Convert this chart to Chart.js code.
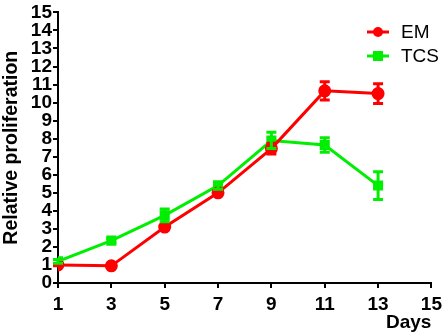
<!DOCTYPE html>
<html>
<head>
<meta charset="utf-8">
<script src="https://cdn.jsdelivr.net/npm/chart.js@4.4.0/dist/chart.umd.min.js"></script>
<style>
    html, body { margin: 0; padding: 0; background: #fff; }
    #wrap { width: 447px; height: 334px; }
</style>
</head>
<body>
<div id="wrap"><canvas id="chart" width="447" height="334"></canvas></div>
<script>
// Data
const days = [1, 3, 5, 7, 9, 11, 13];
const emValues = [1.0, 0.95, 3.1, 5.0, 7.45, 10.65, 10.5];
const emErrors = [0.05, 0.05, 0.1, 0.12, 0.3, 0.5, 0.55];
const tcsValues = [1.2, 2.35, 3.75, 5.4, 7.9, 7.65, 5.4];
const tcsErrors = [0.1, 0.12, 0.35, 0.2, 0.45, 0.4, 0.77];
const seriesNames = ['EM', 'TCS'];
const xTicks = [1, 3, 5, 7, 9, 11, 13, 15];

const RED = '#ff0000';
const GREEN = '#00ee00';
const FONT = 'Liberation Sans, Arial, sans-serif';

// Error bars drawn through the chart's own scales
const errorBarPlugin = {
    id: 'errorBars',
    afterDatasetsDraw(chart) {
        const ctx = chart.ctx;
        const xs = chart.scales.x;
        const ys = chart.scales.y;
        chart.data.datasets.forEach(ds => {
            if (!ds.errors) return;
            ctx.save();
            ctx.strokeStyle = ds.borderColor;
            ctx.lineWidth = 3;
            ds.data.forEach((pt, i) => {
                const e = ds.errors[i];
                const x = xs.getPixelForValue(pt.x);
                const yTop = ys.getPixelForValue(pt.y + e);
                const yBot = ys.getPixelForValue(pt.y - e);
                ctx.beginPath();
                ctx.moveTo(x, yTop);
                ctx.lineTo(x, yBot);
                ctx.moveTo(x - 5, yTop);
                ctx.lineTo(x + 5, yTop);
                ctx.moveTo(x - 5, yBot);
                ctx.lineTo(x + 5, yBot);
                ctx.stroke();
            });
            ctx.restore();
        });
    }
};

// Legend inside the plot, top right
const insideLegend = {
    id: 'insideLegend',
    afterDraw(chart) {
        const ctx = chart.ctx;
        ctx.save();
        chart.data.datasets.forEach((ds, i) => {
            const y = 32 + i * 24;
            ctx.strokeStyle = ds.borderColor;
            ctx.fillStyle = ds.borderColor;
            ctx.lineWidth = 3;
            ctx.beginPath();
            ctx.moveTo(367, y);
            ctx.lineTo(389, y);
            ctx.stroke();
            if (ds.pointStyle === 'rect') {
                ctx.fillRect(373, y - 5, 10, 10);
            } else {
                ctx.beginPath();
                ctx.arc(378, y, 5, 0, Math.PI * 2);
                ctx.fill();
            }
            ctx.fillStyle = '#000';
            ctx.font = '19px ' + FONT;
            ctx.textBaseline = 'middle';
            ctx.fillText(ds.label, 401, y + 1);
        });
        ctx.restore();
    }
};

function toPoints(values) {
    return values.map((v, i) => ({ x: days[i], y: v }));
}

const ctx = document.getElementById('chart').getContext('2d');
new Chart(ctx, {
    type: 'line',
    data: {
        datasets: [
            {
                label: seriesNames[0],
                data: toPoints(emValues),
                errors: emErrors,
                borderColor: RED,
                backgroundColor: RED,
                borderWidth: 3,
                pointStyle: 'circle',
                pointRadius: 5,
                tension: 0
            },
            {
                label: seriesNames[1],
                data: toPoints(tcsValues),
                errors: tcsErrors,
                borderColor: GREEN,
                backgroundColor: GREEN,
                borderWidth: 3,
                pointStyle: 'rect',
                pointRadius: 5,
                tension: 0
            }
        ]
    },
    options: {
        responsive: false,
        animation: false,
        layout: { padding: { left: 0, right: 13, top: 6, bottom: 0 } },
        plugins: {
            legend: { display: false },
            tooltip: { enabled: false }
        },
        scales: {
            x: {
                type: 'linear',
                min: 1,
                max: 15,
                afterBuildTicks: scale => { scale.ticks = xTicks.map(v => ({ value: v })); },
                afterFit: scale => { scale.height = 51; },
                grid: { drawOnChartArea: false, drawTicks: true, tickLength: 5, color: '#000', lineWidth: 2 },
                border: { color: '#000', width: 2 },
                ticks: { color: '#000', font: { family: FONT, size: 19, weight: 'bold' }, padding: 5, maxRotation: 0, autoSkip: false },
                title: {
                    display: true,
                    text: 'Days',
                    align: 'end',
                    color: '#000',
                    font: { family: FONT, size: 19, weight: 'bold' },
                    padding: { top: 0, bottom: 0 }
                }
            },
            y: {
                min: 0,
                max: 15,
                afterFit: scale => { scale.width = 58; },
                grid: { drawOnChartArea: false, drawTicks: true, tickLength: 5, color: '#000', lineWidth: 2 },
                border: { color: '#000', width: 2 },
                ticks: { stepSize: 1, autoSkip: false, color: '#000', font: { family: FONT, size: 19, weight: 'bold' }, padding: 1 },
                title: {
                    display: true,
                    text: 'Relative proliferation',
                    color: '#000',
                    font: { family: FONT, size: 19.5, weight: 'bold' },
                    padding: { top: 0, bottom: 0 }
                }
            }
        }
    },
    plugins: [errorBarPlugin, insideLegend]
});
</script>
</body>
</html>
